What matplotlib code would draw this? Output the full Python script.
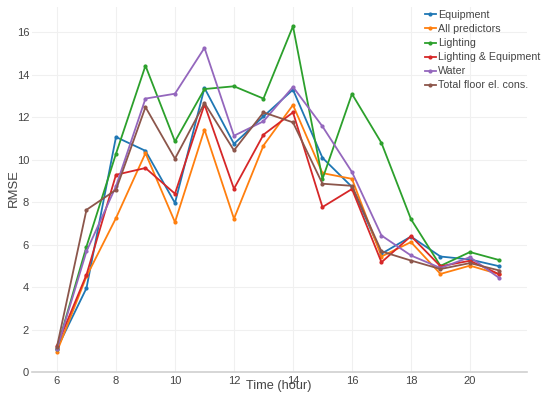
import matplotlib
matplotlib.use("Agg")
import matplotlib.pyplot as plt

plt.rcParams['font.family'] = ['Liberation Sans', 'DejaVu Sans']

hours = [6, 7, 8, 9, 10, 11, 12, 13, 14, 15, 16, 17, 18, 19, 20, 21]
equipment = [1.1, 3.95, 11.07, 10.42, 7.96, 13.38, 10.75, 12.04, 13.3, 10.09, 8.72, 5.57, 6.38, 5.44, 5.3, 4.98]
all_predictors = [0.96, 4.5, 7.25, 10.31, 7.06, 11.42, 7.22, 10.67, 12.58, 9.37, 9.1, 5.44, 6.12, 4.62, 5.01, 4.6]
lighting = [1.1, 5.91, 10.28, 14.43, 10.86, 13.33, 13.46, 12.88, 16.29, 9.09, 13.1, 10.79, 7.2, 5.0, 5.65, 5.27]
lighting_equipment = [1.24, 4.58, 9.29, 9.61, 8.4, 12.6, 8.63, 11.18, 12.23, 7.77, 8.62, 5.17, 6.4, 4.98, 5.24, 4.6]
water = [1.1, 5.68, 8.75, 12.88, 13.11, 15.27, 11.13, 11.81, 13.43, 11.57, 9.42, 6.43, 5.49, 4.9, 5.41, 4.42]
total_floor = [1.2, 7.64, 8.58, 12.48, 10.05, 12.67, 10.44, 12.23, 11.76, 8.87, 8.77, 5.68, 5.25, 4.85, 5.13, 4.78]

series = [
    ("Equipment", equipment, "#1f77b4"),
    ("All predictors", all_predictors, "#ff7f0e"),
    ("Lighting", lighting, "#2ca02c"),
    ("Lighting & Equipment", lighting_equipment, "#d62728"),
    ("Water", water, "#9467bd"),
    ("Total floor el. cons.", total_floor, "#8c564b"),
]

W, H = 550, 399
fig = plt.figure(figsize=(W / 100, H / 100), dpi=100)
ax = fig.add_axes([0.058, 0.0677, 0.9, 0.915])

for name, vals, col in series:
    ax.plot(hours, vals, color=col, lw=1.3, marker='o', ms=2.0, label=name)

ax.set_xlim(5.15, 21.93)
ax.set_ylim(0, 17.2)
ax.set_xticks([6, 8, 10, 12, 14, 16, 18, 20])
ax.set_yticks([0, 2, 4, 6, 8, 10, 12, 14, 16])
ax.grid(True, color='#f0f0f0', lw=0.8)
ax.set_axisbelow(True)
for s in ['top', 'right', 'left']:
    ax.spines[s].set_visible(False)
ax.spines['bottom'].set_color('#d0d0d0')
ax.spines['bottom'].set_linewidth(1.2)
ax.tick_params(length=0, labelsize=8, colors='#444444')
ax.tick_params(axis='x', pad=3)
ax.tick_params(axis='y', pad=2)

fig.text(279 / W, 1 - 386 / H, "Time (hour)", fontsize=9.2, color='#444444',
         ha='center', va='center')
fig.text(14 / W, 1 - 188 / H, "RMSE", fontsize=9.4, color='#444444',
         ha='center', va='center', rotation=90)

leg = ax.legend(loc='upper left', bbox_to_anchor=(0.79, 0.997), frameon=False,
                fontsize=7.7, handlelength=1.0, handletextpad=0.2,
                labelspacing=0.38, borderaxespad=0.0, borderpad=0.2)
for t in leg.get_texts():
    t.set_color('#444444')

fig.savefig("out.png", dpi=100)
